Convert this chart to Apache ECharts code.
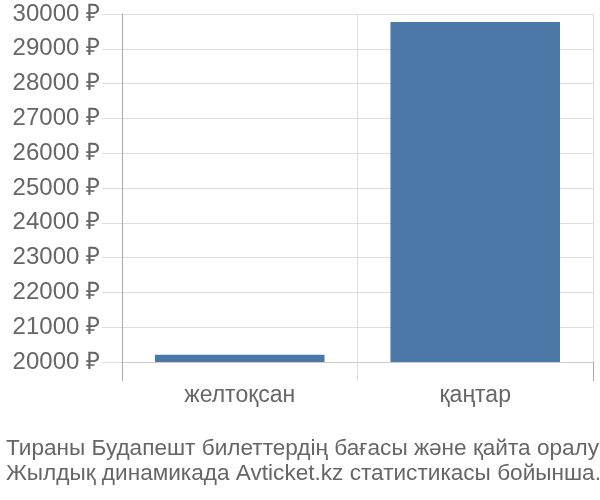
<!DOCTYPE html>
<html>
<head>
<meta charset="utf-8">
<script src="https://cdn.jsdelivr.net/npm/echarts@6/dist/echarts.min.js"></script>
<style>html,body{margin:0;padding:0;background:#fff}#c{width:600px;height:500px}</style>
</head>
<body>
<div id="c"></div>
<script>
const categories = ["желтоқсан", "қаңтар"];
const prices = [20210, 29770];
const yTicks = [20000, 30000, 1000];
const titleLines = ["Тираны Будапешт билеттердің бағасы және қайта оралу", "Жылдық динамикада Avticket.kz статистикасы бойынша."];

const chart = echarts.init(document.getElementById('c'), null, {renderer: 'canvas'});
const font = '"Liberation Sans", Arial, sans-serif';
chart.setOption({
  animation: false,
  title: {
    text: titleLines.join('\n'),
    left: 1, top: 431,
    textStyle: {fontFamily: font, fontSize: 22.6, fontWeight: 'normal', color: '#666', lineHeight: 25}
  },
  grid: {left: 122, right: 7, top: 14, bottom: 138, containLabel: false},
  xAxis: [{
    type: 'category', data: categories,
    axisLine: {show: true, lineStyle: {color: '#ccc'}},
    axisTick: {show: true, length: 19, lineStyle: {color: '#ddd'}},
    splitLine: {show: true, lineStyle: {color: '#ddd'}},
    axisLabel: {fontFamily: font, fontSize: 23, color: '#666', margin: 22}
  }, {
    type: 'category', data: categories, position: 'bottom',
    axisLine: {show: false},
    axisTick: {show: true, length: 19, interval: function (i) { return i === 0; }, lineStyle: {color: '#aaa'}},
    axisLabel: {show: false}, splitLine: {show: false}
  }],
  yAxis: {
    type: 'value', min: yTicks[0], max: yTicks[1], interval: yTicks[2],
    axisLine: {show: true, lineStyle: {color: '#aaa'}},
    axisTick: {show: true, length: 20, lineStyle: {color: '#ddd'}},
    splitLine: {show: true, lineStyle: {color: '#ddd'}},
    axisLabel: {fontFamily: font, fontSize: 24, color: '#666', margin: 22, formatter: v => v + ' ₽'}
  },
  series: [{
    type: 'bar', data: prices, barWidth: '72%',
    itemStyle: {color: '#4c78a8'}
  }]
});
</script>
</body>
</html>
